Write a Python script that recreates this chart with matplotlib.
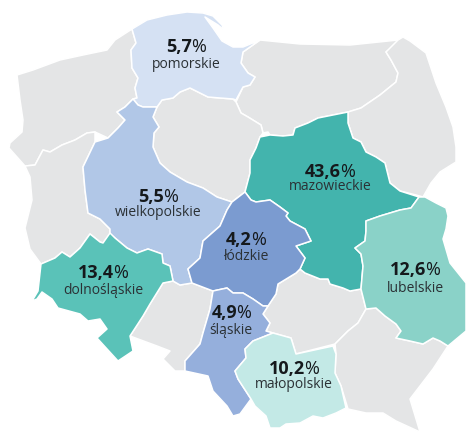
import matplotlib
matplotlib.use('Agg')
import matplotlib.pyplot as plt
from matplotlib.patches import Polygon

plt.rcParams['font.family'] = ['Open Sans', 'DejaVu Sans']

# regions with a value
names = ['pomorskie', 'wielkopolskie', 'mazowieckie', 'łódzkie', 'dolnośląskie', 'śląskie', 'lubelskie', 'małopolskie']
values = ['5,7', '5,5', '43,6', '4,2', '13,4', '4,9', '12,6', '10,2']
label_x = [186, 158, 330, 246, 103, 231, 415, 294]
label_y = [47, 197, 172, 240, 273, 313, 270, 369]
name_y = [64, 212, 187, 257, 290, 330, 289, 385]
colors = ['#d5e1f3', '#b1c7e7', '#43b4ad', '#7b9bd0', '#5ac2b8', '#95afdc', '#8ad2c8', '#c3e9e6']

# outlines, in pixels
pomorskie = [(132, 29), (147, 20), (167, 15), (187, 12), (203, 13), (213, 16), (222, 25), (224, 30), (218, 25), (205, 17), (213, 28), (222, 41), (233, 47), (243, 47), (260, 40), (243, 52), (241, 63), (248, 73), (255, 77), (250, 85), (243, 87), (236, 100), (233, 99), (220, 98), (208, 97), (190, 88), (180, 92), (173, 98), (162, 100), (157, 107), (143, 107), (138, 105), (133, 99), (137, 98), (135, 88), (138, 78), (132, 68), (131, 50), (136, 43)]
wielkopolskie = [(133, 99), (138, 105), (143, 107), (157, 107), (153, 117), (159, 127), (154, 133), (153, 147), (160, 163), (170, 172), (187, 182), (203, 188), (217, 197), (232, 202), (227, 210), (220, 226), (203, 241), (200, 258), (188, 269), (192, 283), (180, 285), (173, 281), (170, 266), (163, 263), (162, 254), (148, 249), (137, 253), (127, 248), (115, 238), (110, 234), (110, 229), (100, 219), (88, 213), (85, 190), (83, 167), (95, 142), (108, 138), (118, 128), (125, 120), (117, 112), (125, 107)]
mazowieckie = [(348, 112), (348, 123), (353, 138), (361, 142), (366, 152), (376, 157), (385, 163), (390, 183), (400, 191), (419, 197), (411, 208), (400, 210), (380, 216), (366, 221), (366, 231), (365, 241), (355, 248), (361, 254), (363, 266), (361, 289), (350, 291), (343, 288), (330, 284), (328, 279), (320, 279), (305, 273), (300, 269), (305, 258), (296, 246), (311, 241), (305, 229), (290, 221), (286, 216), (288, 213), (280, 207), (270, 200), (256, 202), (251, 200), (245, 192), (250, 173), (250, 160), (256, 148), (260, 137), (270, 135), (283, 136), (293, 135), (295, 128), (308, 123), (318, 118), (333, 115)]
lodzkie = [(245, 192), (251, 200), (256, 202), (270, 200), (280, 207), (288, 213), (286, 216), (290, 221), (305, 229), (311, 241), (296, 246), (305, 258), (300, 269), (296, 273), (278, 284), (276, 294), (268, 306), (263, 306), (253, 299), (243, 293), (233, 293), (227, 288), (213, 291), (192, 283), (188, 269), (200, 258), (203, 241), (220, 226), (227, 210), (232, 202)]
dolnoslaskie = [(41, 264), (55, 258), (62, 252), (70, 257), (80, 248), (90, 234), (100, 242), (103, 243), (110, 233), (115, 238), (127, 248), (137, 253), (148, 249), (162, 254), (163, 263), (170, 266), (173, 281), (163, 283), (150, 304), (143, 316), (130, 336), (133, 351), (118, 361), (97, 338), (107, 329), (100, 319), (88, 321), (80, 314), (58, 308), (52, 299), (42, 292), (37, 299), (32, 301), (38, 291)]
slaskie = [(213, 291), (227, 288), (233, 293), (243, 293), (253, 299), (263, 306), (268, 306), (263, 314), (270, 323), (266, 331), (273, 333), (253, 341), (245, 349), (246, 358), (235, 371), (238, 379), (251, 399), (240, 414), (233, 416), (227, 406), (213, 391), (208, 376), (185, 371), (185, 361), (200, 344), (203, 333), (210, 309)]
lubelskie = [(419, 197), (425, 197), (436, 203), (446, 208), (448, 216), (446, 229), (443, 239), (450, 263), (466, 283), (466, 331), (448, 346), (440, 341), (433, 338), (423, 344), (410, 341), (396, 338), (401, 331), (396, 324), (385, 316), (376, 308), (366, 309), (361, 289), (363, 266), (361, 254), (355, 248), (365, 241), (366, 231), (366, 221), (380, 216), (400, 210), (411, 208)]
malopolskie = [(273, 333), (291, 338), (296, 354), (333, 346), (336, 354), (335, 373), (341, 386), (346, 408), (336, 413), (323, 418), (313, 416), (300, 423), (286, 424), (280, 428), (270, 428), (266, 416), (255, 406), (251, 399), (238, 379), (235, 371), (246, 358), (245, 349), (253, 341)]
outlines = [pomorskie, wielkopolskie, mazowieckie, lodzkie, dolnoslaskie, slaskie, lubelskie, malopolskie]

# regions without a value, just gray
zachodniopomorskie = [(132, 29), (136, 43), (131, 50), (132, 68), (138, 78), (135, 88), (137, 98), (133, 99), (125, 107), (117, 112), (125, 120), (118, 128), (108, 138), (95, 132), (87, 133), (75, 140), (62, 145), (50, 152), (43, 150), (35, 165), (25, 166), (9, 148), (10, 143), (22, 132), (23, 120), (20, 100), (17, 75), (33, 70), (60, 60), (83, 55), (107, 50), (115, 40)]
warminsko = [(260, 40), (300, 44), (350, 45), (398, 40), (398, 43), (386, 52), (391, 60), (398, 73), (396, 82), (380, 95), (361, 108), (348, 112), (333, 115), (318, 118), (308, 123), (295, 128), (293, 135), (283, 136), (270, 135), (268, 132), (263, 133), (261, 125), (248, 117), (241, 113), (236, 102), (243, 87), (250, 85), (255, 77), (248, 73), (241, 63), (243, 52)]
podlaskie = [(398, 40), (403, 37), (410, 41), (426, 53), (431, 68), (436, 83), (446, 107), (453, 127), (456, 147), (456, 162), (440, 172), (431, 183), (423, 197), (416, 195), (400, 191), (390, 183), (385, 163), (376, 157), (366, 152), (361, 142), (353, 138), (348, 123), (348, 112), (361, 108), (380, 95), (396, 82), (398, 73), (391, 60), (386, 52)]
kujawsko = [(157, 107), (162, 100), (173, 98), (180, 92), (190, 88), (208, 97), (220, 98), (233, 99), (236, 102), (241, 113), (248, 117), (261, 125), (263, 133), (260, 137), (256, 148), (250, 160), (250, 173), (245, 192), (232, 202), (217, 197), (203, 188), (187, 182), (170, 172), (160, 163), (153, 147), (154, 133), (159, 127), (153, 117)]
lubuskie = [(25, 166), (35, 165), (43, 150), (50, 152), (62, 145), (75, 140), (87, 133), (95, 132), (95, 142), (83, 167), (85, 190), (88, 213), (100, 219), (110, 229), (110, 234), (103, 243), (100, 242), (90, 234), (80, 248), (70, 257), (62, 252), (55, 258), (41, 264), (30, 249), (25, 228), (32, 200), (30, 177)]
opolskie = [(163, 283), (173, 281), (180, 285), (192, 283), (213, 291), (210, 309), (203, 333), (200, 344), (185, 361), (185, 371), (175, 371), (163, 359), (170, 351), (157, 346), (130, 336), (143, 316), (150, 304)]
swietokrzyskie = [(300, 269), (305, 273), (320, 279), (328, 279), (330, 284), (343, 288), (350, 291), (361, 289), (366, 309), (358, 323), (348, 331), (335, 344), (296, 354), (291, 338), (273, 333), (266, 331), (270, 323), (263, 314), (268, 306), (276, 294), (278, 284), (296, 273)]
podkarpackie = [(366, 309), (376, 308), (385, 316), (396, 324), (401, 331), (396, 338), (410, 341), (423, 344), (433, 338), (440, 341), (448, 346), (433, 369), (410, 399), (420, 432), (396, 421), (383, 413), (366, 413), (348, 409), (341, 386), (335, 373), (336, 354), (335, 344), (348, 331), (358, 323)]
gray_outlines = [zachodniopomorskie, warminsko, podlaskie, kujawsko, lubuskie, opolskie, swietokrzyskie, podkarpackie]

fig = plt.figure(figsize=(4.66, 4.32), dpi=100)
ax = fig.add_axes([0, 0, 1, 1])
ax.set_xlim(0, 466)
ax.set_ylim(432, 0)
ax.axis('off')

for outline in gray_outlines:
    ax.add_patch(Polygon(outline, closed=True, facecolor='#e4e5e6', edgecolor='white', linewidth=1.1, joinstyle='round'))
for outline, color in zip(outlines, colors):
    ax.add_patch(Polygon(outline, closed=True, facecolor=color, edgecolor='white', linewidth=1.1, joinstyle='round'))

# value in bold with a normal % after it, centred together
renderer = fig.canvas.get_renderer()
for name, value, x, y, y2 in zip(names, values, label_x, label_y, name_y):
    bold = ax.text(x, y, value, fontsize=13, fontweight='bold', color='#15191c', ha='left', va='center')
    sign = ax.text(x, y, '%', fontsize=13, color='#15191c', ha='left', va='center')
    w1 = bold.get_window_extent(renderer).width - 1
    w2 = sign.get_window_extent(renderer).width
    bold.set_x(x - (w1 + w2) / 2)
    sign.set_x(x - (w1 + w2) / 2 + w1)
    ax.text(x, y2, name, fontsize=10, color='#2b3135', ha='center', va='center')

plt.savefig('out.png', dpi=100)
